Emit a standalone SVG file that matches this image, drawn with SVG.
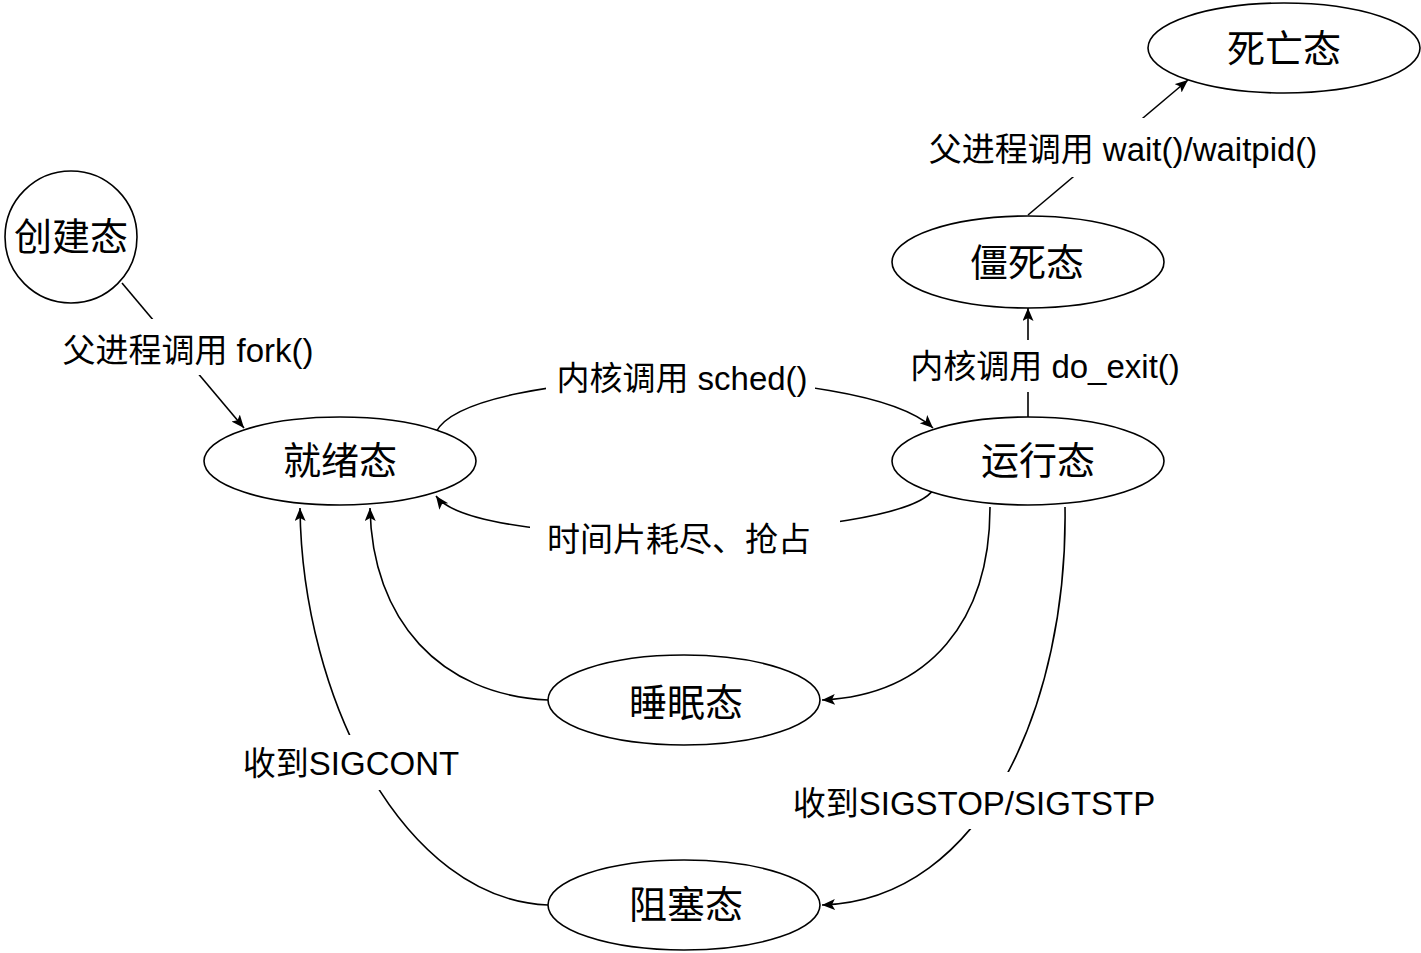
<svg xmlns="http://www.w3.org/2000/svg" width="1421" height="953" viewBox="0 0 1421 953">
<style>
.node{fill:#fff;stroke:#000;stroke-width:1.6}
.nl{font-family:"Liberation Sans","Noto Sans CJK SC",sans-serif;font-size:38px;fill:#000;text-anchor:middle;dominant-baseline:central}
.el{font-family:"Liberation Sans","Noto Sans CJK SC",sans-serif;font-size:33px;fill:#000;text-anchor:middle;dominant-baseline:central}
.edge{fill:none;stroke:#000;stroke-width:1.6}
.bg{fill:#fff}
</style>
<defs>
<marker id="arr" markerUnits="userSpaceOnUse" markerWidth="14" markerHeight="12" refX="13" refY="5.5" orient="auto">
<path d="M0,0 L13,5.5 L0,11 L3,5.5 z" fill="#000"/>
</marker>
</defs>
<rect width="1421" height="953" fill="#fff"/>
<g id="connectors">
<path class="edge" d="M122 283 L244 428" marker-end="url(#arr)"/>
<path class="edge" d="M436 432 C 470 365, 860 360, 933 428" marker-end="url(#arr)"/>
<path class="edge" d="M933 490 C 900 540, 480 555, 436 496" marker-end="url(#arr)"/>
<path class="edge" d="M1028 417 L1028 308" marker-end="url(#arr)"/>
<path class="edge" d="M1028 215 L1188 80" marker-end="url(#arr)"/>
<path class="edge" d="M990 507 C 990 620, 930 695, 822 700" marker-end="url(#arr)"/>
<path class="edge" d="M548 700 C 440 695, 372 620, 370 508" marker-end="url(#arr)"/>
<path class="edge" d="M1065 507 C 1068 700, 985 900, 822 905" marker-end="url(#arr)"/>
<path class="edge" d="M548 905 C 405 900, 302 700, 300 508" marker-end="url(#arr)"/>
<g id="label-fork"><rect class="bg" x="55" y="319" width="266" height="56"/><text class="el" x="188" y="350">父进程调用 fork()</text></g>
<g id="label-sched"><rect class="bg" x="546" y="360" width="269" height="36"/><text class="el" x="682" y="378">内核调用 sched()</text></g>
<g id="label-timeout"><rect class="bg" x="530" y="518" width="310" height="42"/><text class="el" x="679" y="539">时间片耗尽、抢占</text></g>
<g id="label-exit"><rect class="bg" x="905" y="340" width="280" height="52"/><text class="el" x="1045" y="366">内核调用 do_exit()</text></g>
<g id="label-wait"><rect class="bg" x="922" y="118" width="403" height="59"/><text class="el" x="1123" y="149">父进程调用 wait()/waitpid()</text></g>
<g id="label-cont"><rect class="bg" x="238" y="735" width="226" height="55"/><text class="el" x="351" y="763">收到SIGCONT</text></g>
<g id="label-stop"><rect class="bg" x="786" y="772" width="376" height="57"/><text class="el" x="974" y="803">收到SIGSTOP/SIGTSTP</text></g>
</g>
<g id="node-create"><circle class="node" cx="71" cy="237" r="66"/><text class="nl" x="71" y="237">创建态</text></g>
<g id="node-ready"><ellipse class="node" cx="340" cy="461" rx="136" ry="44"/><text class="nl" x="340" y="461">就绪态</text></g>
<g id="node-running"><ellipse class="node" cx="1028" cy="461" rx="136" ry="44"/><text class="nl" x="1038" y="461">运行态</text></g>
<g id="node-zombie"><ellipse class="node" cx="1028" cy="262" rx="136" ry="46"/><text class="nl" x="1027" y="263">僵死态</text></g>
<g id="node-dead"><ellipse class="node" cx="1284" cy="48" rx="136" ry="45"/><text class="nl" x="1284" y="49">死亡态</text></g>
<g id="node-sleep"><ellipse class="node" cx="684" cy="700" rx="136" ry="45"/><text class="nl" x="686" y="703">睡眠态</text></g>
<g id="node-blocked"><ellipse class="node" cx="684" cy="905" rx="136" ry="45"/><text class="nl" x="686" y="905">阻塞态</text></g>
</svg>
